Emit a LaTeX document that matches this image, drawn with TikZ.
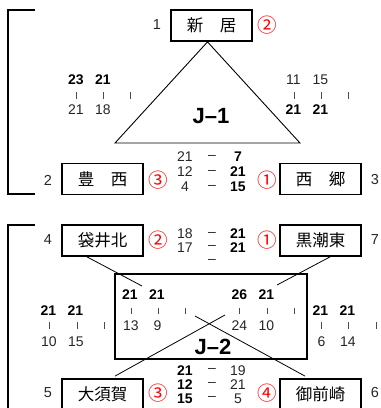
\documentclass[tikz,border=0pt]{standalone}
\usepackage{fontspec}
\setmainfont{Liberation Sans}
\newfontfamily\jpfont{Noto Sans CJK JP}
\usetikzlibrary{calc}
\tikzset{
    team/.style={draw, line width=1.8pt, minimum width=81pt, minimum height=31pt, inner sep=0pt, font=\jpfont\fontsize{16.5}{16}\selectfont},
    seed/.style={inner sep=0pt, text=black!85, font=\fontsize{14.5}{15}\selectfont},
    place/.style={inner sep=0pt, text=red, font=\jpfont\fontsize{19.5}{20}\selectfont},
    pt/.style={inner sep=0pt, text=black!85, font=\fontsize{14}{15}\selectfont},
    wpt/.style={inner sep=0pt, font=\bfseries\fontsize{14}{15}\selectfont},
    tickmark/.style={line width=0.7pt, black!70},
    league/.style={inner sep=0pt, font=\bfseries\fontsize{22}{22}\selectfont},
    bracket/.style={line width=1.8pt}
}

\begin{document}
\begin{tikzpicture}[x=1pt, y=-1pt]
    \useasboundingbox (0,0) rectangle (381,408);

    % J-1
    \draw[bracket] (35,10) -- (8,10) -- (8,194) -- (35,194);

    \node[team] (niihama) at (211.5,25.5) {新　居};
    \node[team] (toyonishi) at (102.5,179) {豊　西};
    \node[team] (saigo) at (320.5,179) {西　郷};

    \node[seed] (s1) at (157,25) {1};
    \node[seed] (s2) at (48,180) {2};
    \node[seed] (s3) at (375,180) {3};
    \node[place] (p1) at (267,25) {②};
    \node[place] (p2) at (158,180) {③};
    \node[place] (p3) at (267,180) {①};

    \coordinate (j1l) at (115,143);
    \coordinate (j1r) at (300,143);
    \draw[line width=0.9pt] ($(niihama.south)+(-4,0)$) -- (j1l) -- (j1r) -- cycle;
    \node[league] (j1) at (211,116) {J\textendash1};

    \node[wpt] (a1) at (76,80) {23};
    \node[wpt] (a2) at (103,80) {21};
    \node[pt] (a3) at (76,110) {21};
    \node[pt] (a4) at (103,110) {18};
    \foreach \x in {76,103,130} \draw[tickmark] (\x,92) -- (\x,99);

    \node[pt] (b1) at (293.5,80) {11};
    \node[pt] (b2) at (320.5,80) {15};
    \node[wpt] (b3) at (293.5,110) {21};
    \node[wpt] (b4) at (320.5,110) {21};
    \foreach \x in {294,321,348} \draw[tickmark] (\x,92) -- (\x,99);

    \foreach \y/\l/\r [count=\i] in {157/21/7, 172/12/21, 187/4/15} {
        \node[pt] (cl\i) at (185,\y) {\l};
        \node[pt] (cd\i) at (212,\y) {\textendash};
        \node[wpt] (cr\i) at (238,\y) {\r};
    }

    % J-2
    \draw[bracket] (35,225) -- (8,225) -- (8,412);

    \node[team] (fukuroi) at (102.5,240.5) {袋井北};
    \node[team] (kuroshio) at (320.5,240.5) {黒潮東};
    \node[team] (osuka) at (102.5,394.5) {大須賀};
    \node[team] (omaezaki) at (320.5,394.5) {御前崎};

    \node[seed] (s4) at (48,240) {4};
    \node[seed] (s7) at (375,240) {7};
    \node[seed] (s5) at (48,393) {5};
    \node[seed] (s6) at (375,393) {6};
    \node[place] (p4) at (158,240) {②};
    \node[place] (p7) at (267,240) {①};
    \node[place] (p5) at (158,393) {③};
    \node[place] (p6) at (267,393) {④};

    \draw[line width=1.1pt] (115,274) rectangle (307,359);
    \node[league] (j2) at (213,347) {J\textendash2};

    \coordinate (fa) at (142,286);
    \coordinate (fb) at (195,316);
    \coordinate (ka) at (277,285);
    \coordinate (kb) at (225,315);
    \draw[line width=0.8pt] ($(fukuroi.south)+(-15.5,0)$) -- (fa);
    \draw[line width=0.8pt] (fb) -- ($(omaezaki.north)+(-15.5,-2)$);
    \draw[line width=0.8pt] ($(kuroshio.south)+(9.5,0)$) -- (ka);
    \draw[line width=0.8pt] (kb) -- ($(osuka.north)+(12.5,-2)$);

    \node[wpt] (d1) at (130,295) {21};
    \node[wpt] (d2) at (157,295) {21};
    \node[pt] (d3) at (131,325.5) {13};
    \node[pt] (d4) at (157.5,325.5) {9};
    \foreach \x in {131,158,185} \draw[tickmark] (\x,307.5) -- (\x,314);

    \node[wpt] (e1) at (239.5,295) {26};
    \node[wpt] (e2) at (266.5,295) {21};
    \node[pt] (e3) at (239.5,325.5) {24};
    \node[pt] (e4) at (266.5,325.5) {10};
    \foreach \x in {239,267,294} \draw[tickmark] (\x,307.5) -- (\x,314);

    \node[wpt] (f1) at (48.5,311) {21};
    \node[wpt] (f2) at (75.5,311) {21};
    \node[pt] (f3) at (49,342) {10};
    \node[pt] (f4) at (76,342) {15};
    \foreach \x in {49,77,104} \draw[tickmark] (\x,322) -- (\x,328.5);

    \node[wpt] (g1) at (320.5,311) {21};
    \node[wpt] (g2) at (347.5,311) {21};
    \node[pt] (g3) at (321.5,342) {6};
    \node[pt] (g4) at (348,342) {14};
    \foreach \x in {321,348,376} \draw[tickmark] (\x,322) -- (\x,328.5);

    \foreach \y/\l/\r [count=\i] in {234/18/21, 247.5/17/21} {
        \node[pt] (hl\i) at (185,\y) {\l};
        \node[pt] (hd\i) at (212,\y) {\textendash};
        \node[wpt] (hr\i) at (238,\y) {\r};
    }
    \node[pt] (hd3) at (212,261) {\textendash};

    \foreach \y/\l/\r [count=\i] in {370.5/21/19, 384.5/12/21, 398.5/15/5} {
        \node[wpt] (kl\i) at (185,\y) {\l};
        \node[pt] (kd\i) at (212,\y) {\textendash};
        \node[pt] (kr\i) at (238,\y) {\r};
    }
\end{tikzpicture}
\end{document}
